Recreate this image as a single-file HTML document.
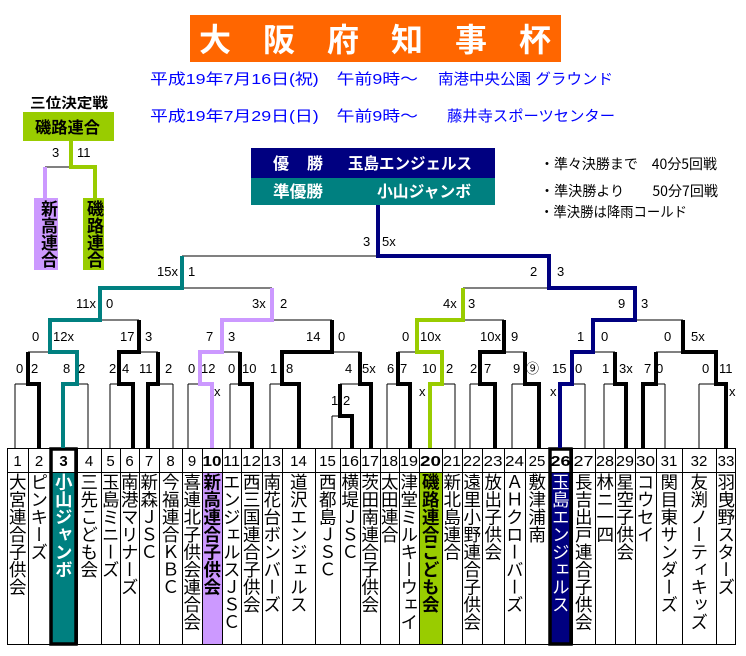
<!DOCTYPE html>
<html><head><meta charset="utf-8"><style>
html,body{margin:0;padding:0;background:#fff;}
#w{position:relative;width:746px;height:656px;overflow:hidden;font-family:"Liberation Sans","Noto Sans CJK JP",sans-serif;}
svg{position:absolute;left:0;top:0;}
.n{position:absolute;top:473px;writing-mode:vertical-rl;text-orientation:upright;font-family:"Noto Sans CJK JP",sans-serif;font-size:17.5px;line-height:1;color:#000;display:flex;align-items:center;white-space:nowrap;}
.b{font-weight:bold;}
.v{position:absolute;writing-mode:vertical-rl;text-orientation:upright;font-family:"Noto Sans CJK JP",sans-serif;font-weight:bold;font-size:17px;line-height:1;}
</style></head><body><div id="w">
<svg width="746" height="656" xmlns="http://www.w3.org/2000/svg" font-family="Liberation Sans, Noto Sans CJK JP, sans-serif">
<!-- title -->
<rect x="190" y="15" width="371" height="47" fill="#FF6600"/>
<g fill="#fff" font-family="Noto Sans CJK JP, sans-serif" font-weight="bold" font-size="32">
<text x="199" y="51">大</text><text x="263" y="51">阪</text><text x="327" y="51">府</text><text x="391" y="51">知</text><text x="455" y="51">事</text><text x="519" y="51">杯</text></g>
<g fill="#0000FF" font-size="15" font-family="Liberation Sans, Noto Sans CJK JP, sans-serif">
<text x="150" y="84" textLength="268" lengthAdjust="spacingAndGlyphs">平成19年7月16日(祝)　午前9時～</text>
<text x="438" y="84" textLength="175" lengthAdjust="spacingAndGlyphs">南港中央公園 グラウンド</text>
<text x="150" y="121" textLength="268" lengthAdjust="spacingAndGlyphs">平成19年7月29日(日)　午前9時～</text>
<text x="447" y="121" textLength="168" lengthAdjust="spacingAndGlyphs">藤井寺スポーツセンター</text></g>
<!-- champion box -->
<rect x="251" y="148" width="244" height="30" fill="#000080"/>
<rect x="251" y="178" width="244" height="27" fill="#008080"/>
<g fill="#fff" font-size="16" font-weight="bold" font-family="Noto Sans CJK JP, sans-serif">
<text x="273" y="169">優</text><text x="307" y="169">勝</text>
<text x="348" y="169" textLength="124" lengthAdjust="spacingAndGlyphs">玉島エンジェルス</text>
<text x="273" y="197" textLength="50" lengthAdjust="spacingAndGlyphs">準優勝</text>
<text x="377" y="197" textLength="94" lengthAdjust="spacingAndGlyphs">小山ジャンボ</text></g>
<g fill="#000" font-size="14" font-family="Noto Sans CJK JP, sans-serif">
<text x="540" y="169" textLength="177" lengthAdjust="spacingAndGlyphs">・準々決勝まで　40分5回戦</text>
<text x="540" y="196" textLength="178" lengthAdjust="spacingAndGlyphs">・準決勝より　　50分7回戦</text>
<text x="540" y="217" textLength="147" lengthAdjust="spacingAndGlyphs">・準決勝は降雨コールド</text></g>
<!-- third place -->
<text x="30" y="108" font-size="14" font-weight="bold" textLength="78" lengthAdjust="spacingAndGlyphs" font-family="Noto Sans CJK JP, sans-serif">三位決定戦</text>
<rect x="23" y="112" width="91" height="29" fill="#99CC00"/>
<text x="35" y="133" font-size="16" font-weight="bold" textLength="65" lengthAdjust="spacingAndGlyphs" font-family="Noto Sans CJK JP, sans-serif">磯路連合</text>
<line x1="45" y1="167" x2="71" y2="167" stroke="#000" stroke-width="1"/>
<polyline points="71,141 71,167 95,167 95,198" fill="none" stroke="#99CC00" stroke-width="4"/>
<line x1="45" y1="167" x2="45" y2="198" stroke="#CC99FF" stroke-width="4"/>
<rect x="34" y="198" width="24" height="72" fill="#CC99FF"/>
<rect x="83" y="198" width="21" height="72" fill="#99CC00"/>
<g font-size="13" fill="#000"><text x="52" y="157">3</text><text x="77" y="157">11</text></g>

<!-- table -->
<rect x="50" y="472" width="27" height="172" fill="#008080"/>
<rect x="202" y="472" width="20" height="172" fill="#CC99FF"/>
<rect x="419" y="472" width="23" height="172" fill="#99CC00"/>
<rect x="549" y="472" width="23" height="172" fill="#000080"/>
<g stroke="#000" stroke-width="1" fill="none">
<rect x="7.5" y="448.5" width="728" height="196"/>
<line x1="7" y1="472.5" x2="736" y2="472.5"/>
<path d="M28.5 448V644M50.5 448V644M77.5 448V644M101.5 448V644M120.5 448V644M139.5 448V644M159.5 448V644M182.5 448V644M202.5 448V644M222.5 448V644M241.5 448V644M262.5 448V644M282.5 448V644M315.5 448V644M340.5 448V644M360.5 448V644M380.5 448V644M399.5 448V644M419.5 448V644M442.5 448V644M462.5 448V644M482.5 448V644M504.5 448V644M525.5 448V644M549.5 448V644M572.5 448V644M595.5 448V644M615.5 448V644M635.5 448V644M656.5 448V644M682.5 448V644M716.5 448V644"/>
</g>
<rect x="51" y="449" width="25" height="195" fill="none" stroke="#000" stroke-width="3.5"/>
<rect x="550" y="449" width="21" height="195" fill="none" stroke="#000" stroke-width="3.5"/>
<g font-size="15" fill="#000" text-anchor="middle">
<text x="17.5" y="466">1</text><text x="39" y="466">2</text><text x="63.5" y="466" font-weight="bold">3</text><text x="89" y="466">4</text><text x="110.5" y="466">5</text><text x="129.5" y="466">6</text><text x="149" y="466">7</text><text x="170.5" y="466">8</text><text x="192" y="466">9</text>
<text x="212" y="466" font-weight="bold" textLength="19" lengthAdjust="spacingAndGlyphs">10</text>
<text x="231.5" y="466" textLength="17" lengthAdjust="spacingAndGlyphs">11</text>
<text x="251.5" y="466" textLength="19" lengthAdjust="spacingAndGlyphs">12</text>
<text x="272" y="466" textLength="18" lengthAdjust="spacingAndGlyphs">13</text>
<text x="298.5" y="466">14</text><text x="327.5" y="466">15</text>
<text x="350" y="466" textLength="18" lengthAdjust="spacingAndGlyphs">16</text>
<text x="370" y="466" textLength="18" lengthAdjust="spacingAndGlyphs">17</text>
<text x="389.5" y="466" textLength="17" lengthAdjust="spacingAndGlyphs">18</text>
<text x="409" y="466" textLength="18" lengthAdjust="spacingAndGlyphs">19</text>
<text x="430.5" y="466" font-weight="bold" textLength="21" lengthAdjust="spacingAndGlyphs">20</text>
<text x="452" y="466" textLength="18" lengthAdjust="spacingAndGlyphs">21</text>
<text x="472" y="466" textLength="18" lengthAdjust="spacingAndGlyphs">22</text>
<text x="493" y="466" textLength="19" lengthAdjust="spacingAndGlyphs">23</text>
<text x="514.5" y="466" textLength="19" lengthAdjust="spacingAndGlyphs">24</text>
<text x="537" y="466">25</text>
<text x="560.5" y="466" font-weight="bold" textLength="20" lengthAdjust="spacingAndGlyphs">26</text>
<text x="583.5" y="466" textLength="20" lengthAdjust="spacingAndGlyphs">27</text>
<text x="605" y="466" textLength="18" lengthAdjust="spacingAndGlyphs">28</text>
<text x="625" y="466" textLength="18" lengthAdjust="spacingAndGlyphs">29</text>
<text x="645.5" y="466" textLength="19" lengthAdjust="spacingAndGlyphs">30</text>
<text x="669" y="466">31</text><text x="699" y="466">32</text><text x="726" y="466">33</text>
</g>

<!-- bracket thin -->
<g stroke="#000" stroke-width="1" fill="none">
<path d="M15 384V448M39 384V448M63 384V448M88 384V448M110 384V448M133 384V448M148 384V448M173 384V448M188 384V448M212 384V448M230 384V448M252 384V448M270 384V448M299 384V448M332 416V448M352 416V448M371 384V448M387 384V448M410 384V448M430 384V448M455 384V448M470 384V448M495 384V448M512 384V448M539 384V448M560 384V448M585 384V448M604 384V448M626 384V448M643 384V448M665 384V448M699 384V448M726 384V448"/>
<path d="M15 384H39M63 384H88M110 384H133M148 384H173M188 384H212M230 384H252M270 384H299M340 384H371M387 384H410M430 384H455M470 384H495M512 384H539M560 384H585M604 384H626M643 384H665M699 384H726M332 416H352M340 384V416"/>
<path d="M28 352V384M77 352V384M119 352V384M158 352V384M200 352V384M240 352V384M282 352V384M360 352V384M398 352V384M442 352V384M480 352V384M525 352V384M572 352V384M615 352V384M656 352V384M716 352V384"/>
<path d="M28 352H77M119 352H158M200 352H240M282 352H360M398 352H442M480 352H525M572 352H615M656 352H716"/>
<path d="M50 320V352M139 320V352M222 320V352M332 320V352M417 320V352M504 320V352M593 320V352M683 320V352M50 320H139M222 320H332M417 320H504M593 320H683"/>
<path d="M100 288V320M272 288V320M463 288V320M635 288V320M100 288H272M463 288H635M182 256V288M549 256V288M182 256H549"/>
</g>
<!-- thick -->
<g fill="none" stroke-width="4" stroke-linejoin="miter">
<g stroke="#000">
<polyline points="39,448 39,384 28,384 28,352"/>
<polyline points="133,448 133,384 119,384 119,352 139,352 139,320"/>
<polyline points="148,448 148,384 158,384 158,352"/>
<polyline points="252,448 252,384 240,384 240,352"/>
<polyline points="299,448 299,384 282,384 282,352 332,352 332,320"/>
<polyline points="352,448 352,416 340,416 340,384"/>
<polyline points="371,448 371,384 360,384 360,352"/>
<polyline points="410,448 410,384 398,384 398,352"/>
<polyline points="495,448 495,384 480,384 480,352 504,352 504,320"/>
<polyline points="539,448 539,384 525,384 525,352"/>
<polyline points="626,448 626,384 615,384 615,352"/>
<polyline points="643,448 643,384 656,384 656,352"/>
<polyline points="726,448 726,384 716,384 716,352 683,352 683,320"/>
</g>
<polyline stroke="#008080" points="63,448 63,384 77,384 77,352 50,352 50,320 100,320 100,288 182,288 182,256"/>
<polyline stroke="#CC99FF" points="212,448 212,384 200,384 200,352 222,352 222,320 272,320 272,288"/>
<polyline stroke="#99CC00" points="430,448 430,384 442,384 442,352 417,352 417,320 463,320 463,288"/>
<polyline stroke="#000080" points="560,448 560,384 572,384 572,352 593,352 593,320 635,320 635,288 549,288 549,256 378,256 378,205"/>
</g>
<!-- scores -->
<g font-size="13" fill="#000">
<text x="363" y="246">3</text><text x="382" y="246">5x</text>
<text x="157" y="276">15x</text><text x="188" y="276">1</text><text x="530" y="276">2</text><text x="557" y="276">3</text>
<text x="76" y="308">11x</text><text x="106" y="308">0</text><text x="252" y="308">3x</text><text x="280" y="308">2</text>
<text x="443" y="308">4x</text><text x="468" y="308">3</text><text x="618" y="308">9</text><text x="641" y="308">3</text>
<text x="32" y="341">0</text><text x="53" y="341">12x</text><text x="120" y="341">17</text><text x="145" y="341">3</text>
<text x="206" y="341">7</text><text x="228" y="341">3</text><text x="306" y="341">14</text><text x="338" y="341">0</text>
<text x="402" y="341">0</text><text x="420" y="341">10x</text><text x="480" y="341">10x</text><text x="511" y="341">9</text>
<text x="577" y="341">1</text><text x="601" y="341">0</text><text x="664" y="341">0</text><text x="691" y="341">5x</text>
<text x="16" y="373">0</text><text x="31" y="373">2</text><text x="63" y="373">8</text><text x="78" y="373">2</text>
<text x="109" y="373">2</text><text x="122" y="373">4</text><text x="139" y="373">11</text><text x="165" y="373">2</text>
<text x="188" y="373">0</text><text x="201" y="373">12</text><text x="228" y="373">0</text><text x="242" y="373">10</text>
<text x="270" y="373">1</text><text x="286" y="373">8</text><text x="345" y="373">4</text><text x="362" y="373">5x</text>
<text x="387" y="373">6</text><text x="400" y="373">7</text><text x="422" y="373">10</text><text x="446" y="373">2</text>
<text x="470" y="373">2</text><text x="484" y="373">7</text><text x="513" y="373">9</text><text x="526" y="373">⑨</text>
<text x="552" y="373">15</text><text x="575" y="373">0</text><text x="602" y="373">1</text><text x="619" y="373">3x</text>
<text x="644" y="373">7</text><text x="656" y="373">0</text><text x="702" y="373">0</text><text x="719" y="373">11</text>
<text x="214" y="396">x</text><text x="419" y="396">x</text><text x="550" y="396">x</text><text x="729" y="396">x</text>
<text x="331" y="405">1</text><text x="343" y="405">2</text>
</g>
</svg>
<div class="v" style="left:34px;top:200px;width:24px;">新高連合</div>
<div class="v" style="left:83px;top:200px;width:21px;">磯路連合</div>

<div class="n" style="left:7px;width:21px">大宮連合子供会</div>
<div class="n" style="left:28px;width:22px">ピンキーズ</div>
<div class="n b" style="left:50px;width:27px;color:#fff">小山ジャンボ</div>
<div class="n" style="left:77px;width:24px">三先こども会</div>
<div class="n" style="left:101px;width:19px">玉島ミニーズ</div>
<div class="n" style="left:120px;width:19px">南港マリナーズ</div>
<div class="n" style="left:139px;width:20px">新森ＪＳＣ</div>
<div class="n" style="left:159px;width:23px">今福連合ＫＢＣ</div>
<div class="n" style="left:182px;width:20px">喜連北子供会連合会</div>
<div class="n b" style="left:202px;width:20px">新高連合子供会</div>
<div class="n" style="left:222px;width:19px">エンジェルスＪＳＣ</div>
<div class="n" style="left:241px;width:21px">西三国連合子供会</div>
<div class="n" style="left:262px;width:20px">南花台ボンバーズ</div>
<div class="n" style="left:282px;width:33px">道沢エンジェルス</div>
<div class="n" style="left:315px;width:25px">西都島ＪＳＣ</div>
<div class="n" style="left:340px;width:20px">横堤ＪＳＣ</div>
<div class="n" style="left:360px;width:20px">茨田南連合子供会</div>
<div class="n" style="left:380px;width:19px">太田連合</div>
<div class="n" style="left:399px;width:20px">津堂ミルキーウェイ</div>
<div class="n b" style="left:419px;width:23px">磯路連合こども会</div>
<div class="n" style="left:442px;width:20px">新北島連合</div>
<div class="n" style="left:462px;width:20px">遠里小野連合子供会</div>
<div class="n" style="left:482px;width:22px">放出子供会</div>
<div class="n" style="left:504px;width:21px">ＡＨクローバーズ</div>
<div class="n" style="left:525px;width:24px">敷津浦南</div>
<div class="n" style="left:549px;width:23px;color:#fff">玉島エンジェルス</div>
<div class="n" style="left:572px;width:23px">長吉出戸連合子供会</div>
<div class="n" style="left:595px;width:20px">林ニ一四</div>
<div class="n" style="left:615px;width:20px">星空子供会</div>
<div class="n" style="left:635px;width:21px">コウセイ</div>
<div class="n" style="left:656px;width:26px">関目東サンダーズ</div>
<div class="n" style="left:682px;width:34px">友渕ノーティキッズ</div>
<div class="n" style="left:716px;width:20px">羽曳野スターズ</div>
</div></body></html>
